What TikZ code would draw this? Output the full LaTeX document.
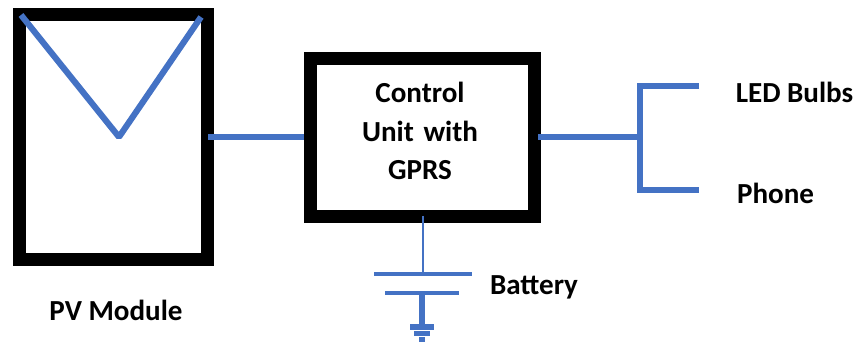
\documentclass[tikz,border=0pt]{standalone}
\usepackage{fontspec}
\setmainfont{Carlito}
\definecolor{wireblue}{RGB}{68,114,196}
\tikzset{
    frame/.style={draw=black,line width=9.75pt,inner sep=0pt},
    wire/.style={draw=wireblue,line width=4pt},
    plate/.style={draw=wireblue,line width=3.2pt},
    thinwire/.style={draw=wireblue,line width=2.2pt},
    caption/.style={font=\fontsize{21.8}{28.9}\selectfont\bfseries,inner sep=0pt,align=center}
}
\begin{document}
\begin{tikzpicture}[x=0.75pt,y=-0.75pt]
        \useasboundingbox (0,0) rectangle (857,342);
        \node (pv) at (113.5,137) [frame,minimum width=141pt,minimum height=183.4pt] {};
        \node (control) at (422.5,137.5) [frame,minimum width=168pt,minimum height=118.5pt] {};
        \coordinate (vleft) at (21,15);
        \coordinate (vtip) at (119,137);
        \coordinate (vright) at (201,17);
        \draw[wire,line width=4.6pt,line join=bevel] (vleft)--(vtip)--(vright);
        \coordinate (pvout) at (208,137);
        \draw[wire] (pvout)--(pvout-|control.west);
        % loads on the right
        \coordinate (ctrlout) at (538,137);
        \coordinate (split) at (640,137);
        \coordinate (ledend) at (699,86);
        \coordinate (phoneend) at (699,190);
        \draw[wire] (ctrlout)--(split);
        \draw[wire] (ledend)--(ledend-|split)--(phoneend-|split)--(phoneend);
        % battery
        \coordinate (ctrlin) at (423,216);
        \coordinate (plateA) at (423,274);
        \coordinate (plateB) at (422,293);
        \coordinate (gndA) at (422,327);
        \coordinate (gndB) at (422,333.5);
        \coordinate (gndC) at (422,339.5);
        \draw[thinwire] (ctrlin)--(plateA);
        \draw[plate] (plateA) ++(-49,0)--++(98,0);
        \draw[plate] (plateB) ++(-37,0)--++(74,0);
        \draw[wire] (plateB)--(gndA);
        \draw[wire] (gndA) ++(-12,0)--++(24,0);
        \draw[wire] (gndB) ++(-8,0)--++(16,0);
        \draw[wire] (gndC) ++(-3,0)--++(6,0);
        \node (pvlabel) at (116,310) [caption] {PV Module};
        \node (ctrllabel) at (420,131) [caption,text width=120pt] {Control\\Unit with\\GPRS};
        \node (ledlabel) at (794.5,92) [caption] {LED Bulbs};
        \node (phonelabel) at (775.5,193.5) [caption] {Phone};
        \node (batlabel) at (534,287) [caption] {Battery};
    \end{tikzpicture}
\end{document}
